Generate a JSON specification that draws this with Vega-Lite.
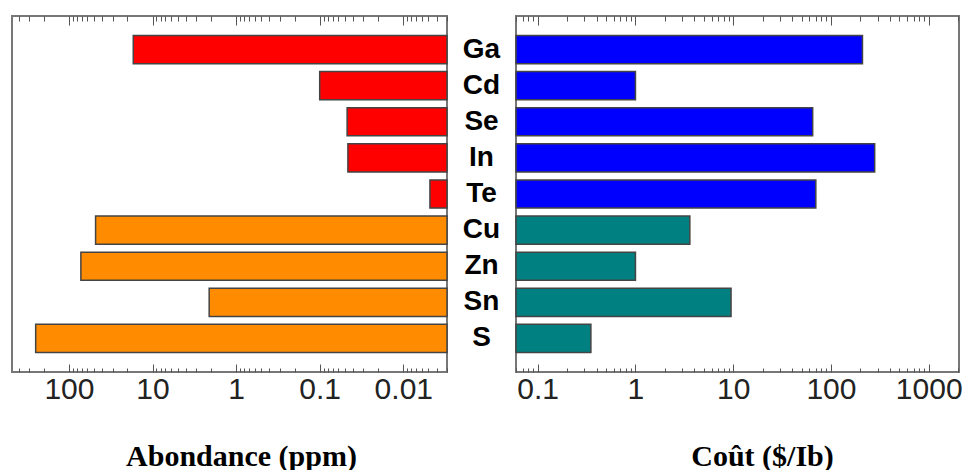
{
  "$schema": "https://vega.github.io/schema/vega-lite/v6.json",
  "padding": {"left": 11, "top": 14, "right": 2, "bottom": 0},
  "autosize": {"type": "pad"},
  "background": "white",
  "data": {"values": [
    {"element": "Ga", "groupe": "PV", "abondance": 17, "cout": 210},
    {"element": "Cd", "groupe": "PV", "abondance": 0.1, "cout": 1.0},
    {"element": "Se", "groupe": "PV", "abondance": 0.047, "cout": 65},
    {"element": "In", "groupe": "PV", "abondance": 0.046, "cout": 280},
    {"element": "Te", "groupe": "PV", "abondance": 0.0048, "cout": 70},
    {"element": "Cu", "groupe": "commun", "abondance": 48, "cout": 3.6},
    {"element": "Zn", "groupe": "commun", "abondance": 72, "cout": 1.0},
    {"element": "Sn", "groupe": "commun", "abondance": 2.1, "cout": 9.5},
    {"element": "S", "groupe": "commun", "abondance": 250, "cout": 0.35}
  ]},
  "spacing": 69,
  "bounds": "flush",
  "resolve": {"scale": {"x": "independent", "color": "independent"}},
  "config": {
    "view": {"stroke": "#777", "strokeWidth": 2},
    "axis": {"grid": false, "domain": false, "tickColor": "#555", "tickWidth": 1}
  },
  "hconcat": [
    {
      "width": 435,
      "height": 356,
      "resolve": {"axis": {"x": "independent"}},
      "layer": [
        {
          "mark": {"type": "bar", "stroke": "#444", "strokeWidth": 1.5},
          "encoding": {
            "y": {"field": "element", "type": "nominal", "sort": ["Ga","Cd","Se","In","Te","Cu","Zn","Sn","S"], "scale": {"paddingInner": 0.22, "paddingOuter": 0.54}, "axis": null},
            "x": {"field": "abondance", "type": "quantitative",
              "scale": {"type": "log", "domain": [0.003, 480], "reverse": true, "nice": false},
              "axis": {
                "orient": "bottom",
                "values": [0.003,0.004,0.005,0.006,0.007,0.008,0.009,0.01,0.02,0.03,0.04,0.05,0.06,0.07,0.08,0.09,0.1,0.2,0.3,0.4,0.5,0.6,0.7,0.8,0.9,1,2,3,4,5,6,7,8,9,10,20,30,40,50,60,70,80,90,100,200,300,400],
                "format": "~g",
                "labelExpr": "abs(log(datum.value)/LN10 - round(log(datum.value)/LN10)) < 0.000001 ? datum.label : ''",
                "tickSize": {"condition": {"test": "abs(log(datum.value)/LN10 - round(log(datum.value)/LN10)) < 0.000001", "value": -8}, "value": -4},
                "labelPadding": 10,
                "labelOverlap": false, "labelBound": false, "labelFlush": false,
                "labelFont": "Liberation Sans", "labelFontSize": 30, "labelColor": "#222",
                "title": "Abondance (ppm)",
                "titleFont": "Liberation Serif", "titleFontSize": 30, "titleFontWeight": "bold", "titleColor": "black",
                "titleX": 229, "titleY": 84, "titleBaseline": "middle", "titleAlign": "center"
              }},
            "x2": {"datum": 0.003},
            "color": {"field": "groupe", "type": "nominal", "scale": {"domain": ["PV","commun"], "range": ["#FF0000","#FF8C00"]}, "legend": null}
          }
        },
        {
          "mark": {"type": "rule", "opacity": 0},
          "encoding": {
            "x": {"field": "abondance", "type": "quantitative",
              "axis": {
                "orient": "top",
                "values": [0.003,0.004,0.005,0.006,0.007,0.008,0.009,0.01,0.02,0.03,0.04,0.05,0.06,0.07,0.08,0.09,0.1,0.2,0.3,0.4,0.5,0.6,0.7,0.8,0.9,1,2,3,4,5,6,7,8,9,10,20,30,40,50,60,70,80,90,100,200,300,400],
                "labels": false,
                "tickSize": {"condition": {"test": "abs(log(datum.value)/LN10 - round(log(datum.value)/LN10)) < 0.000001", "value": -9}, "value": -5},
                "title": null
              }}
          }
        }
      ]
    },
    {
      "width": 443,
      "height": 356,
      "resolve": {"axis": {"x": "independent"}},
      "layer": [
        {
          "mark": {"type": "bar", "stroke": "#444", "strokeWidth": 1.5},
          "encoding": {
            "y": {"field": "element", "type": "nominal", "sort": ["Ga","Cd","Se","In","Te","Cu","Zn","Sn","S"], "scale": {"paddingInner": 0.22, "paddingOuter": 0.54},
              "axis": {"orient": "left", "domain": false, "ticks": false, "tickSize": 0, "labelPadding": 35, "labelAlign": "center", "labelFont": "Liberation Sans", "labelFontWeight": "bold", "labelFontSize": 28, "labelColor": "black", "title": null}},
            "x": {"field": "cout", "type": "quantitative",
              "scale": {"type": "log", "domain": [0.06, 2040], "nice": false},
              "axis": {
                "orient": "bottom",
                "values": [0.06,0.07,0.08,0.09,0.1,0.2,0.3,0.4,0.5,0.6,0.7,0.8,0.9,1,2,3,4,5,6,7,8,9,10,20,30,40,50,60,70,80,90,100,200,300,400,500,600,700,800,900,1000,2000],
                "format": "~g",
                "labelExpr": "abs(log(datum.value)/LN10 - round(log(datum.value)/LN10)) < 0.000001 ? datum.label : ''",
                "tickSize": {"condition": {"test": "abs(log(datum.value)/LN10 - round(log(datum.value)/LN10)) < 0.000001", "value": -8}, "value": -4},
                "labelPadding": 10,
                "labelOverlap": false, "labelBound": false, "labelFlush": false,
                "labelFont": "Liberation Sans", "labelFontSize": 30, "labelColor": "#222",
                "title": "Coût ($/Ib)",
                "titleFont": "Liberation Serif", "titleFontSize": 30, "titleFontWeight": "bold", "titleColor": "black",
                "titleX": 246, "titleY": 84, "titleBaseline": "middle", "titleAlign": "center"
              }},
            "x2": {"datum": 0.06},
            "color": {"field": "groupe", "type": "nominal", "scale": {"domain": ["PV","commun"], "range": ["#0000FF","#008080"]}, "legend": null}
          }
        },
        {
          "mark": {"type": "rule", "opacity": 0},
          "encoding": {
            "x": {"field": "cout", "type": "quantitative",
              "axis": {
                "orient": "top",
                "values": [0.06,0.07,0.08,0.09,0.1,0.2,0.3,0.4,0.5,0.6,0.7,0.8,0.9,1,2,3,4,5,6,7,8,9,10,20,30,40,50,60,70,80,90,100,200,300,400,500,600,700,800,900,1000,2000],
                "labels": false,
                "tickSize": {"condition": {"test": "abs(log(datum.value)/LN10 - round(log(datum.value)/LN10)) < 0.000001", "value": -9}, "value": -5},
                "title": null
              }}
          }
        }
      ]
    }
  ]
}
